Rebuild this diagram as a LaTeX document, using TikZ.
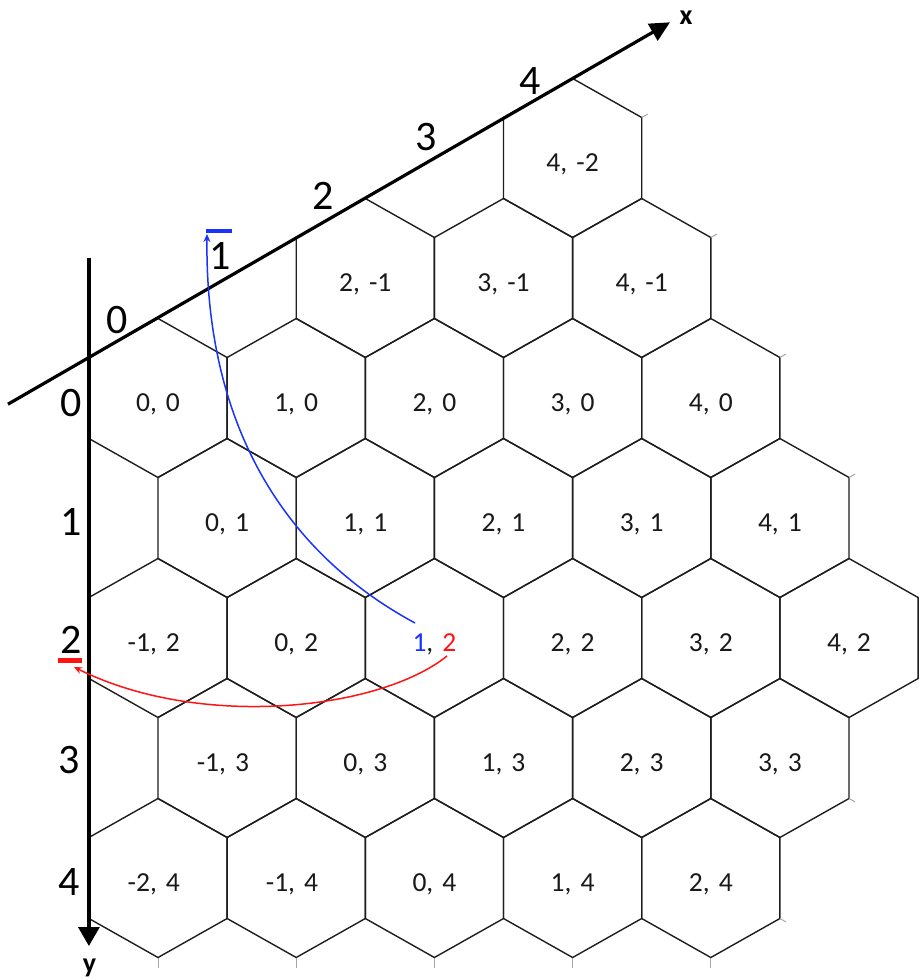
\documentclass[tikz,border=0pt]{standalone}
\usepackage{fontspec}
\usetikzlibrary{arrows.meta,calc}
\newfontfamily\carl{Carlito}
\definecolor{arrblue}{RGB}{25,50,255}
\definecolor{arrred}{RGB}{255,20,20}
\definecolor{hexgray}{RGB}{30,30,30}
\definecolor{lblgray}{RGB}{25,25,25}
\newcommand\pr[2]{#1,\hspace{0.33em}#2}
\newcommand\hexcell[4]{%
  \draw[hexline] ({158+138.2*(#1+0.5*(#2))},{398+120*(#2)-79.5})
     -- ++(69.1,39) -- ++(0,81) -- ++(-69.1,39) -- ++(-69.1,-39) -- ++(0,-81) -- cycle;
  \node[hexlabel] (#4) at ({158+138.2*(#1+0.5*(#2))},{398+120*(#2)+13}) {#3};
}
\begin{document}
\begin{tikzpicture}[x=1pt,y=-1pt,
  hexline/.style={draw=hexgray,line width=1.4pt,line join=miter},
  hexlabel/.style={font=\carl\fontsize{27.5}{30}\selectfont,inner sep=0pt,anchor=base,text=lblgray},
  axisline/.style={line width=3.2pt,black},
  axnum/.style={font=\carl\fontsize{42}{46}\selectfont,inner sep=0pt,text=black},
  axname/.style={font=\carl\bfseries\fontsize{28}{30}\selectfont,inner sep=0pt,text=black},
  stub/.style={draw=black!35,line width=1pt},
  bluearrow/.style={draw=arrblue,line width=1.5pt,-{Stealth[length=8pt,width=7pt]}},
  redarrow/.style={draw=arrred,line width=1.5pt,-{Stealth[length=8pt,width=7pt]}}]
\fill[white] (0,0) rectangle (918,979);
\useasboundingbox (0,0) rectangle (918,979);

% hexagonal cells
\hexcell{4}{-2}{\pr{4}{-2}}{c4m2}
\hexcell{2}{-1}{\pr{2}{-1}}{c2m1}
\hexcell{3}{-1}{\pr{3}{-1}}{c3m1}
\hexcell{4}{-1}{\pr{4}{-1}}{c4m1}
\hexcell{0}{0}{\pr{0}{0}}{c00}
\hexcell{1}{0}{\pr{1}{0}}{c10}
\hexcell{2}{0}{\pr{2}{0}}{c20}
\hexcell{3}{0}{\pr{3}{0}}{c30}
\hexcell{4}{0}{\pr{4}{0}}{c40}
\hexcell{0}{1}{\pr{0}{1}}{c01}
\hexcell{1}{1}{\pr{1}{1}}{c11}
\hexcell{2}{1}{\pr{2}{1}}{c21}
\hexcell{3}{1}{\pr{3}{1}}{c31}
\hexcell{4}{1}{\pr{4}{1}}{c41}
\hexcell{-1}{2}{\pr{\llap{-}1}{2}}{cm12}
\hexcell{0}{2}{\pr{0}{2}}{c02}
\hexcell{1}{2}{\pr{\textcolor{arrblue}{1}}{\textcolor{arrred}{2}}}{c12}
\hexcell{2}{2}{\pr{2}{2}}{c22}
\hexcell{3}{2}{\pr{3}{2}}{c32}
\hexcell{4}{2}{\pr{4}{2}}{c42}
\hexcell{-1}{3}{\pr{\llap{-}1}{3}}{cm13}
\hexcell{0}{3}{\pr{0}{3}}{c03}
\hexcell{1}{3}{\pr{1}{3}}{c13}
\hexcell{2}{3}{\pr{2}{3}}{c23}
\hexcell{3}{3}{\pr{3}{3}}{c33}
\hexcell{-2}{4}{\pr{\llap{-}2}{4}}{cm24}
\hexcell{-1}{4}{\pr{\llap{-}1}{4}}{cm14}
\hexcell{0}{4}{\pr{0}{4}}{c04}
\hexcell{1}{4}{\pr{1}{4}}{c14}
\hexcell{2}{4}{\pr{2}{4}}{c24}

% faint cut-off edge stubs
\foreach \sx in {158,296.2,434.4,572.6,710.8}{\draw[stub] (\sx,958) -- (\sx,968);}
\draw[stub] (641.7,117.5) -- ++(6,-3.4);
\draw[stub] (710.8,237.5) -- ++(6,-3.4);
\draw[stub] (779.9,357.5) -- ++(6,-3.4);
\draw[stub] (849,477.5) -- ++(6,-3.4);
\draw[stub] (849,798.5) -- ++(6,3.4);
\draw[stub] (779.9,918.5) -- ++(6,3.4);

% axes
\coordinate (ax0) at (88.9,357.5);
\coordinate (ax4) at (572.6,78.5);
\coordinate (xs) at ($(ax0)!-0.1673!(ax4)$);
\coordinate (xe) at ($(ax0)!1.2014!(ax4)$);
\draw[axisline,-{Triangle[length=20pt,width=19pt]}] (xs) -- (xe);
\coordinate (ys) at (88.9,258);
\coordinate (ye) at (88.9,946);
\draw[axisline,-{Triangle[length=19pt,width=21pt]}] (ys) -- (ye);

\node[axname] (xname) at (686,18) {x};
\node[axname,anchor=base] (yname) at (89.5,972) {y};

\node[axnum] (xn0) at (117.5,320) {0};
\node[axnum] (xn1) at (220,256) {1};
\node[axnum] (xn2) at (323,196) {2};
\node[axnum] (xn3) at (426,137) {3};
\node[axnum] (xn4) at (530,81) {4};

\node[axnum] (yn0) at (71,403.5) {0};
\node[axnum] (yn1) at (71,522) {1};
\node[axnum] (yn2) at (71,640) {2};
\node[axnum] (yn3) at (69,760) {3};
\node[axnum] (yn4) at (69,882) {4};

% projection arrows
\coordinate (bs) at (415,623);
\coordinate (be) at (207,234);
\draw[bluearrow] (bs) .. controls (280,550) and (205,420) .. (be);
\coordinate (bb1) at (206,230.5);
\coordinate (bb2) at (232,230.5);
\draw[arrblue,line width=4pt] (bb1) -- (bb2);

\coordinate (rs) at (447,656);
\coordinate (re) at (74,667);
\draw[redarrow] (rs) .. controls (380,710) and (200,730) .. (re);
\coordinate (rb1) at (58,660);
\coordinate (rb2) at (82,660);
\draw[arrred,line width=5pt] (rb1) -- (rb2);
\end{tikzpicture}
\end{document}
